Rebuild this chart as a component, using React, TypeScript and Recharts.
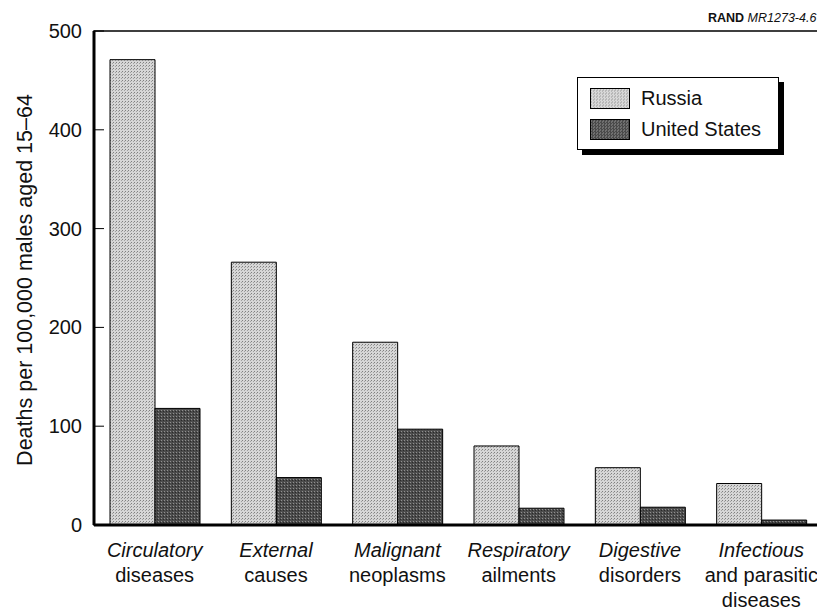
import { Bar, BarChart, ReferenceArea, XAxis, YAxis } from "recharts"

const categories = [
  "Circulatory diseases",
  "External causes",
  "Malignant neoplasms",
  "Respiratory ailments",
  "Digestive disorders",
  "Infectious and parasitic diseases",
]

// first line is set in italics, the rest upright
const categoryLines = [
  ["Circulatory", "diseases"],
  ["External", "causes"],
  ["Malignant", "neoplasms"],
  ["Respiratory", "ailments"],
  ["Digestive", "disorders"],
  ["Infectious", "and parasitic", "diseases"],
]

const russia = [471, 266, 185, 80, 58, 42]
const unitedStates = [118, 48, 97, 17, 18, 5]

const yTicks = [0, 100, 200, 300, 400, 500]

const data = categories.map((name, i) => ({
  name,
  russia: russia[i],
  unitedStates: unitedStates[i],
}))

const font = "'Liberation Sans', Arial, Helvetica, sans-serif"

function YTick({ x, y, payload }: any) {
  return (
    <g>
      <line x1={x} x2={x + 10} y1={y} y2={y} stroke="#000" strokeWidth={1} />
      <text
        x={x - 12}
        y={y}
        textAnchor="end"
        dominantBaseline="central"
        fontSize={20}
        fontFamily={font}
        fill="#111"
      >
        {payload.value}
      </text>
    </g>
  )
}

function XTick({ x, y, payload, index }: any) {
  const lines = categoryLines[index] ?? [payload.value]
  return (
    <g>
      {lines.map((line: string, i: number) => (
        <text
          key={i}
          x={x}
          y={y + 32 + i * 25}
          textAnchor="middle"
          fontSize={20}
          fontFamily={font}
          fontStyle={i === 0 ? "italic" : "normal"}
          fill="#111"
        >
          {line}
        </text>
      ))}
    </g>
  )
}

function LegendBox() {
  const item = (fill: string, label: string) => (
    <div style={{ display: "flex", alignItems: "center", height: 31 }}>
      <div
        style={{
          width: 38,
          height: 19,
          border: "1px solid #000",
          background: fill,
          marginRight: 11,
        }}
      />
      <span style={{ fontSize: 20, fontFamily: font, color: "#111" }}>{label}</span>
    </div>
  )
  return (
    <div
      style={{
        position: "absolute",
        left: 569,
        top: 69,
        width: 188,
        height: 66,
        padding: "5px 0 0 12px",
        border: "1px solid #000",
        background: "#fff",
        boxShadow: "5px 5px 0 #000",
        zIndex: 2,
      }}
    >
      {item("repeating-conic-gradient(#d8d8d8 0 25%, #b8b8b8 0 50%) 0 0 / 3px 3px", "Russia")}
      {item("repeating-conic-gradient(#4a4a4a 0 25%, #707070 0 50%) 0 0 / 3px 3px", "United States")}
    </div>
  )
}

export default function App() {
  return (
    <div style={{ position: "relative", width: 817, height: 605 }}>
      <div
        style={{
          position: "absolute",
          left: 700,
          top: 3,
          whiteSpace: "nowrap",
          fontSize: 12.5,
          fontFamily: font,
          color: "#111",
          zIndex: 2,
        }}
      >
        <b>RAND</b> <i>MR1273-4.6</i>
      </div>
      <LegendBox />
      <BarChart
        width={817}
        height={605}
        data={data}
        margin={{ top: 23, right: 3, left: 0, bottom: 0 }}
        barCategoryGap={16}
        barGap={0}
      >
        <defs>
          <pattern id="russiaDots" width="3" height="3" patternUnits="userSpaceOnUse">
            <rect width="3" height="3" fill="#d6d6d6" />
            <rect x="0" y="0" width="1" height="1" fill="#808080" />
            <rect x="2" y="1" width="1" height="1" fill="#a0a0a0" />
          </pattern>
          <pattern id="usDots" width="3" height="3" patternUnits="userSpaceOnUse">
            <rect width="3" height="3" fill="#4c4c4c" />
            <rect x="0" y="0" width="1" height="1" fill="#909090" />
            <rect x="2" y="1" width="1" height="1" fill="#2a2a2a" />
          </pattern>
        </defs>
        <ReferenceArea
          y1={0}
          y2={500}
          fill="none"
          stroke="#000"
          strokeWidth={1.5}
          ifOverflow="visible"
        />
        <XAxis
          dataKey="name"
          height={88}
          interval={0}
          tickLine={false}
          tickSize={0}
          tickMargin={0}
          axisLine={{ stroke: "#000", strokeWidth: 3 }}
          tick={<XTick />}
        />
        <YAxis
          width={86}
          domain={[0, 500]}
          ticks={yTicks}
          tickLine={false}
          tickSize={0}
          tickMargin={0}
          axisLine={{ stroke: "#000", strokeWidth: 3 }}
          tick={<YTick />}
          label={{
            value: "Deaths per 100,000 males aged 15–64",
            angle: -90,
            position: "insideLeft",
            dx: 11,
            dy: 2,
            style: { fontSize: 21.5, fontFamily: font, fill: "#111", textAnchor: "middle" },
          }}
        />
        <Bar
          dataKey="russia"
          name="Russia"
          fill="url(#russiaDots)"
          stroke="#000"
          strokeWidth={1}
          barSize={45}
          isAnimationActive={false}
        />
        <Bar
          dataKey="unitedStates"
          name="United States"
          fill="url(#usDots)"
          stroke="#000"
          strokeWidth={1}
          barSize={45}
          isAnimationActive={false}
        />
      </BarChart>
    </div>
  )
}
